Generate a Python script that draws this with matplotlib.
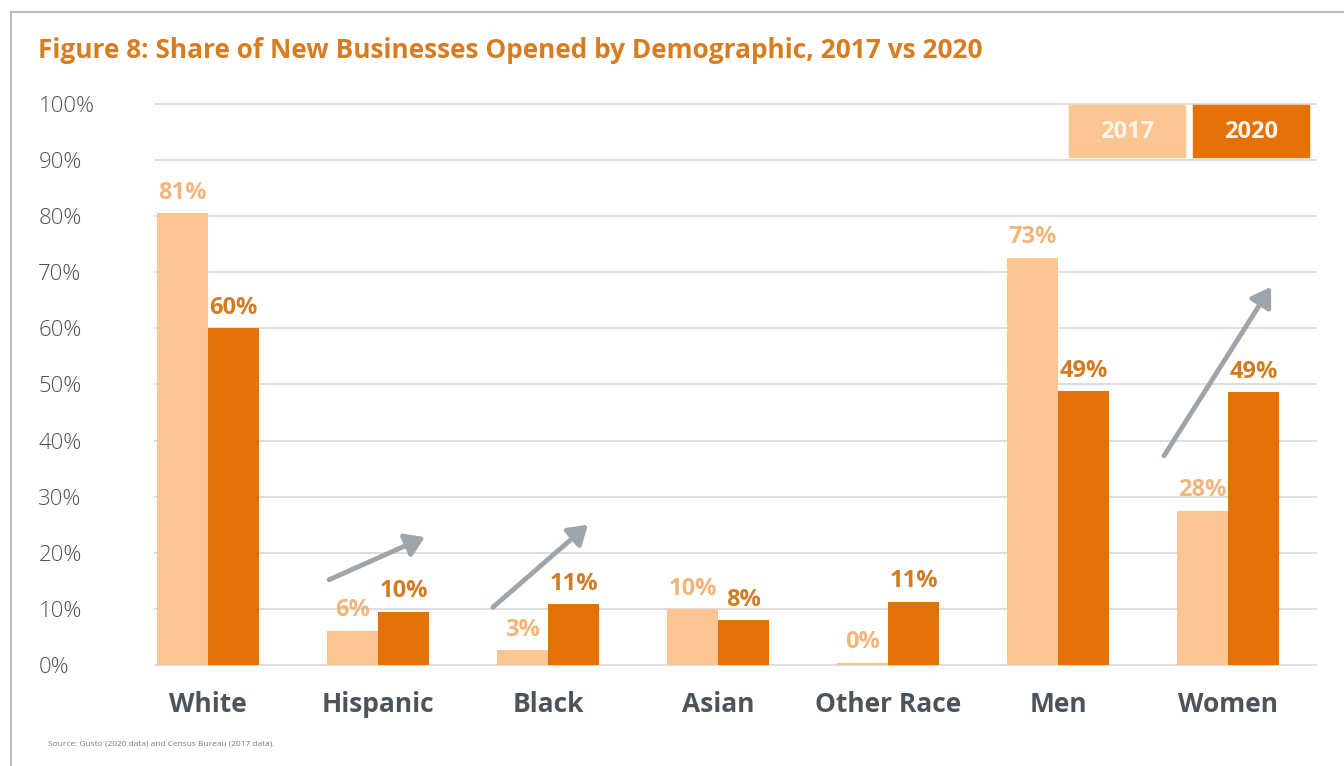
import matplotlib
matplotlib.use("Agg")
import matplotlib.pyplot as plt
from matplotlib.patches import FancyArrowPatch, Rectangle
from matplotlib.lines import Line2D
import numpy as np

# Data
categories = ["White", "Hispanic", "Black", "Asian", "Other Race", "Men", "Women"]
share_2017 = [80.6, 6.1, 2.6, 9.9, 0.4, 72.6, 27.5]
share_2020 = [60.0, 9.5, 10.9, 8.0, 11.3, 48.8, 48.6]
series_labels = ["2017", "2020"]
y_ticks = [0, 10, 20, 30, 40, 50, 60, 70, 80, 90, 100]

# Styling
C_LIGHT = "#FBC591"
C_DARK = "#E37106"
C_LIGHT_TXT = "#F2B57A"
C_DARK_TXT = "#D47B22"
C_TITLE = "#D77C1F"
C_GRID = "#DADADA"
C_TICK = "#505050"
C_CAT = "#4B535B"
C_ARROW = "#9EA5AA"
FONT = "Open Sans"

W, H = 1344, 766
fig = plt.figure(figsize=(W / 100, H / 100), dpi=100)
fig.patch.set_facecolor("white")

# Frame lines around the panel
fig.add_artist(Line2D([11 / W, 1.0], [1 - 12 / H, 1 - 12 / H], color="#BDBDBD", lw=1.5))
fig.add_artist(Line2D([11 / W, 11 / W], [0, 1 - 12 / H], color="#BDBDBD", lw=1.5))

# Axes placement (pixels): left 155, right 1316, y=0 at 665, y=100 at 104
left_px, right_px, bot_px, top_px = 155, 1316, 665, 104
ax = fig.add_axes([left_px / W, 1 - bot_px / H, (right_px - left_px) / W, (bot_px - top_px) / H])

group_gap = 170.0
x0 = (left_px - 208) / group_gap
x1 = (right_px - 208) / group_gap
ax.set_xlim(x0, x1)
ax.set_ylim(0, 100)

x = np.arange(len(categories))
bw = 51 / group_gap
ax.bar(x - bw / 2, share_2017, width=bw, color=C_LIGHT, zorder=3)
ax.bar(x + bw / 2, share_2020, width=bw, color=C_DARK, zorder=3)

for xi, v in zip(x, share_2017):
    ax.annotate(f"{round(v)}%", (xi - bw / 2, v), xytext=(0, 6), textcoords="offset points",
                ha="center", va="bottom", fontsize=17, fontweight="bold",
                color=C_LIGHT_TXT, family=FONT, zorder=4)
for xi, v in zip(x, share_2020):
    ax.annotate(f"{round(v)}%", (xi + bw / 2, v), xytext=(0, 6), textcoords="offset points",
                ha="center", va="bottom", fontsize=17, fontweight="bold",
                color=C_DARK_TXT, family=FONT, zorder=4)

# Grid
ax.set_yticks(y_ticks)
ax.set_yticklabels([f"{t}%" for t in y_ticks], fontsize=16, color=C_TICK, family=FONT,
                   fontweight="light")
for t in y_ticks:
    ax.axhline(t, color=C_GRID, lw=1.3, zorder=1, clip_on=False)
ax.tick_params(axis="y", length=0, pad=84)
for lbl in ax.get_yticklabels():
    lbl.set_horizontalalignment("left")

ax.set_xticks(x)
ax.set_xticklabels(categories, fontsize=19, fontweight="bold", color=C_CAT, family=FONT)
ax.tick_params(axis="x", length=0, pad=19)

for s in ax.spines.values():
    s.set_visible(False)
ax.set_facecolor("none")

# Trend arrows
arrows = [((0.712, 15.2), (1.276, 22.8)),
          ((1.676, 10.3), (2.235, 25.0)),
          ((5.624, 37.3), (6.253, 67.4))]
for start, end in arrows:
    ax.add_patch(FancyArrowPatch(start, end, arrowstyle="-|>,head_length=7,head_width=4.5",
                                 color=C_ARROW, lw=3.5, mutation_scale=1.6, zorder=5,
                                 shrinkA=0, shrinkB=0))

# Legend boxes
for i, (lab, col) in enumerate(zip(series_labels, [C_LIGHT, C_DARK])):
    bx = 1069 + i * 124
    fig.add_artist(Rectangle((bx / W, 1 - 157 / H), 116 / W, 52 / H,
                             transform=fig.transFigure, color=col, zorder=6))
    fig.text((bx + 58) / W, 1 - 132 / H, lab, ha="center", va="center",
             fontsize=17, fontweight="bold", color="#FFF4E8", family=FONT, zorder=7)

# Title and source
fig.text(38 / W, 1 - 50 / H, "Figure 8: Share of New Businesses Opened by Demographic, 2017 vs 2020",
         ha="left", va="center", fontsize=18.9, fontweight="bold", color=C_TITLE, family=FONT)
fig.text(48 / W, 1 - 744 / H, "Source: Gusto (2020 data) and Census Bureau (2017 data).",
         ha="left", va="center", fontsize=6, color="#7A7A7A", family=FONT)

fig.savefig("out.png", dpi=100, facecolor="white")
